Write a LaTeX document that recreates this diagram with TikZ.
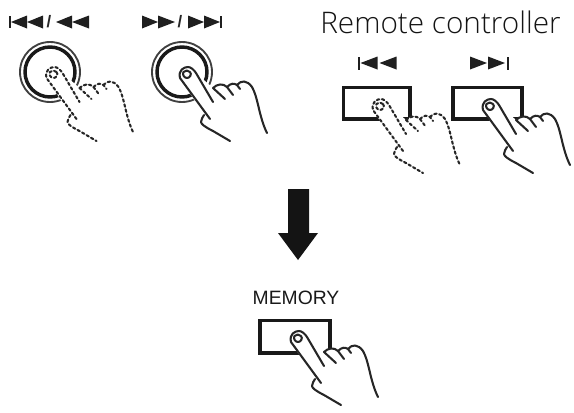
\documentclass[tikz,border=0pt]{standalone}
\usepackage{fontspec}
\setmainfont{Liberation Sans}
\newfontfamily\labelfont{Open Sans Light}[]
\usetikzlibrary{calc}
\tikzset{
  x=0.75pt,y=-0.75pt,
  handline/.style={line width=1.55pt,line cap=round,line join=round,draw=black!85},
  solidhand/.style={handline},
  dashhand/.style={handline,dash pattern=on 1.9pt off 2pt},
  keybox/.style={line width=2.6pt,draw=black!90},
  glyph/.style={fill=black!88,draw=none},
  pics/hand/.style={code={
    % white palm hides whatever lies under the hand
    \fill[white] (-7,3) .. controls (-9,-5) and (-3,-8) .. (1,-8)
      .. controls (4,-8) and (7,-5) .. (9,-2) -- (26,13)
      .. controls (30,9) and (36,8) .. (40,12)
      .. controls (44,8) and (47,8) .. (50,10)
      .. controls (54,5) and (60,5) .. (65,12)
      .. controls (71,22) and (72,42) .. (80,58)
      -- (43,66) -- (26,56) .. controls (18,52) and (14,49) .. (14,47)
      .. controls (14,44) and (16,42) .. (17,40) -- cycle;
    \draw[#1] (23,44) -- (-7,3) .. controls (-9,-5) and (-3,-8) .. (1,-8)
      .. controls (4,-8) and (7,-5) .. (9,-2) -- (26,27);
    \draw[#1] (3,-3) .. controls (5,-1) and (3,3) .. (0,3)
      .. controls (-3,3) and (-5,-1) .. (-3.5,-3)
      .. controls (-1.5,-5) and (1,-5) .. (3,-3);
    \draw[#1] (26,13) -- (38,24);
    \draw[#1] (26,13) .. controls (30,9) and (36,8) .. (40,12) -- (46,20);
    \draw[#1] (40,12) .. controls (44,8) and (47,8) .. (50,10) -- (53,14);
    \draw[#1] (50,10) .. controls (54,5) and (60,5) .. (65,12)
      .. controls (71,22) and (72,42) .. (80,58);
    \draw[#1] (17,40) .. controls (16,42) and (14,44) .. (14,47)
      .. controls (14,49) and (18,52) .. (26,56) -- (43,66);
  }},
  pics/tri/.style={code={
    \fill[glyph] (0,-6.5) -- (#1,0) -- (0,6.5) -- cycle;
  }},
}
\begin{document}
\begin{tikzpicture}
\useasboundingbox (0,0) rectangle (574,412);

% Front panel skip keys
\node[inner sep=0pt,font=\bfseries\fontsize{12.5}{12.5}\selectfont,text=black!85] (slashA) at (49,22) {/};
\node[inner sep=0pt,font=\bfseries\fontsize{12.5}{12.5}\selectfont,text=black!85] (slashB) at (180,22) {/};
\fill[glyph] (9,16) rectangle (11,28);
\pic at (27,22) {tri=-16};
\pic at (43,22) {tri=-16};
\pic at (72,22) {tri=-16};
\pic at (89,22) {tri=-17};
\pic at (142,22) {tri=16};
\pic at (158,22) {tri=17};
\pic at (188,22) {tri=16};
\pic at (204,22) {tri=16};
\fill[glyph] (219.5,16) rectangle (221.5,28);

\foreach \cx/\nm in {50/dialA,182/dialB}{
  \draw[line width=1.4pt,black!75] (\cx,72) circle (30);
  \draw[line width=2.6pt,black!90] (\cx,72) circle (25);
}
\pic at (53.5,75) {hand=dashhand};
\pic at (187,75) {hand=solidhand};

% Remote controller keys
\node[anchor=base west,inner sep=0pt,font=\labelfont\fontsize{22.3}{22.3}\selectfont,text=black!92] (remote) at (320,33) {Remote controller};
\fill[glyph] (358,57) rectangle (360,70);
\pic at (377.5,63) {tri=-17};
\pic at (396.5,63) {tri=-17};
\pic at (470,63) {tri=17};
\pic at (488,63) {tri=17};
\fill[glyph] (507,57) rectangle (509,70);
\draw[keybox] (343.5,87.5) rectangle (410,119);
\draw[keybox] (453,87.5) rectangle (522,119);
\pic at (380,107) {hand=dashhand};
\pic at (490,107) {hand=solidhand};

% Step arrow towards the memory key
\fill[black!92] (288,189) -- (309,189) -- (309,233) -- (318,233) -- (298,260) -- (278,233) -- (288,233) -- cycle;

% Memory key
\node[inner sep=0pt,anchor=base,font=\fontsize{14.5}{14.5}\selectfont,text=black!90] (memory) at (296,304) {MEMORY};
\draw[keybox] (260,320.5) rectangle (330,353);
\pic at (298,339) {hand=solidhand};
\end{tikzpicture}
\end{document}
